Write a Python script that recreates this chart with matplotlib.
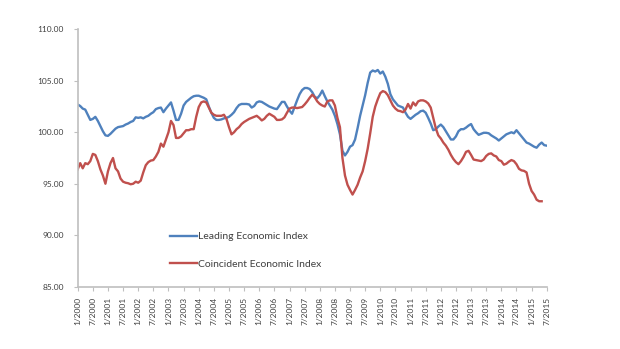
import matplotlib
matplotlib.use("Agg")
import matplotlib.pyplot as plt
import numpy as np

plt.rcParams['font.family'] = ['Lato', 'DejaVu Sans']

leading = [
    102.7, 102.55, 102.3, 102.2, 101.7, 101.2, 101.3, 101.5, 101.1, 100.6, 100.1, 99.7,
    99.65, 99.85, 100.1, 100.35, 100.5, 100.55, 100.6, 100.75, 100.85, 101.0, 101.1, 101.45,
    101.4, 101.45, 101.35, 101.5, 101.6, 101.8, 101.95, 102.25, 102.35, 102.4, 101.95, 102.3,
    102.6, 102.9, 102.1, 101.2, 101.2, 101.8, 102.6, 102.95, 103.15, 103.35, 103.5, 103.55,
    103.55, 103.45, 103.35, 103.2, 102.5, 101.9, 101.4, 101.2, 101.2, 101.25, 101.35, 101.4,
    101.5, 101.7, 101.95, 102.35, 102.65, 102.75, 102.75, 102.75, 102.7, 102.4, 102.55, 102.9,
    103.0, 102.95, 102.8, 102.65, 102.5, 102.4, 102.3, 102.25, 102.6, 102.95, 102.95, 102.5,
    102.1, 101.8, 102.45, 103.1, 103.7, 104.1, 104.3, 104.3, 104.2, 103.9, 103.45, 103.3,
    103.6, 104.05, 103.5, 103.0, 102.6, 102.2, 101.6, 100.8, 99.8, 98.2, 97.75, 98.1,
    98.6, 98.75, 99.3, 100.4, 101.6, 102.6, 103.6, 104.8, 105.8, 106.0, 105.9, 106.05,
    105.7, 105.9, 105.4, 104.7, 103.7, 103.2, 102.9, 102.6, 102.5, 102.4, 101.9, 101.5,
    101.3, 101.5, 101.7, 101.85, 102.05, 102.1, 101.9, 101.4, 100.85, 100.2, 100.3, 100.55,
    100.75, 100.5, 100.1, 99.7, 99.3, 99.3, 99.6, 100.1, 100.3, 100.3, 100.45, 100.65,
    100.8, 100.3, 100.0, 99.75, 99.85, 99.95, 99.95, 99.9, 99.7, 99.55, 99.4, 99.2,
    99.4, 99.6, 99.8, 99.9, 100.0, 99.9, 100.2, 99.9, 99.6, 99.3, 99.0, 98.9,
    98.75, 98.6, 98.5, 98.8, 99.0, 98.75, 98.7,
]

coincident = [
    96.4, 97.0, 96.5, 97.0, 96.9, 97.2, 97.9, 97.8, 97.2, 96.4, 95.8, 95.0,
    96.2, 97.0, 97.5, 96.5, 96.2, 95.5, 95.2, 95.1, 95.05, 94.95, 95.0, 95.2,
    95.1, 95.3, 96.1, 96.8, 97.1, 97.25, 97.3, 97.65, 98.1, 98.9, 98.6, 99.3,
    100.0, 101.1, 100.7, 99.45, 99.45, 99.6, 99.9, 100.2, 100.2, 100.3, 100.3, 101.5,
    102.45, 102.9, 103.0, 102.9, 102.4, 101.9, 101.7, 101.6, 101.6, 101.6, 101.7, 101.3,
    100.5, 99.8, 100.0, 100.3, 100.5, 100.8, 101.0, 101.15, 101.3, 101.4, 101.5, 101.6,
    101.4, 101.15, 101.3, 101.6, 101.8, 101.65, 101.5, 101.2, 101.2, 101.25, 101.45, 101.9,
    102.3, 102.4, 102.4, 102.35, 102.4, 102.45, 102.7, 103.0, 103.35, 103.65, 103.4, 103.0,
    102.75, 102.6, 102.5, 103.0, 103.1, 103.1, 102.6, 101.4, 100.5, 97.5, 95.8, 94.9,
    94.4, 93.95, 94.4, 94.9, 95.6, 96.2, 97.2, 98.4, 99.9, 101.5, 102.5, 103.2,
    103.8, 104.0, 103.9, 103.6, 103.1, 102.6, 102.3, 102.1, 102.05, 101.95, 102.2, 102.75,
    102.3, 102.9, 102.6, 103.0, 103.1, 103.1, 103.0, 102.8, 102.4, 101.4, 100.4, 99.7,
    99.4, 99.0, 98.7, 98.3, 97.8, 97.4, 97.1, 96.9, 97.2, 97.6, 98.1, 98.2,
    97.8, 97.35, 97.3, 97.25, 97.2, 97.35, 97.7, 97.9, 97.95, 97.75, 97.65, 97.3,
    97.2, 96.85, 96.95, 97.15, 97.3, 97.2, 96.9, 96.45, 96.3, 96.25, 96.1, 95.0,
    94.3, 93.95, 93.45, 93.3, 93.3,
]

tick_labels = []
for yr in range(2000, 2016):
    tick_labels.append(f"1/{yr}")
    tick_labels.append(f"7/{yr}")

y_ticks = [85, 90, 95, 100, 105, 110]

fig = plt.figure(figsize=(6.2, 3.49), dpi=100)
ax = fig.add_axes([0.1253, 0.1785, 0.7565, 0.7375])

ax.plot(np.arange(len(leading)), leading, color='#4f81bd', lw=1.7,
        label='Leading Economic Index', solid_joinstyle='round')
ax.plot(np.arange(len(coincident)), coincident, color='#c0504d', lw=1.7,
        label='Coincident Economic Index', solid_joinstyle='round')

ax.set_xlim(0, 186)
ax.set_ylim(85, 110)
ax.set_xticks(np.arange(0, 6 * len(tick_labels), 6))
ax.set_xticklabels(tick_labels, rotation=90, fontsize=6, color='#404040')
ax.set_yticks(y_ticks)
ax.set_yticklabels([f"{v:.2f}" for v in y_ticks], fontsize=6, color='#404040')

for s in ['top', 'right']:
    ax.spines[s].set_visible(False)
for s in ['left', 'bottom']:
    ax.spines[s].set_color('#bfbfbf')
    ax.spines[s].set_linewidth(1.2)
ax.tick_params(axis='both', direction='out', length=3, width=0.8, color='#bfbfbf')
ax.tick_params(axis='y', pad=7)
ax.tick_params(axis='x', pad=4)

leg = ax.legend(loc='upper left', bbox_to_anchor=(170 / 620, 1 - 232 / 349),
                bbox_transform=fig.transFigure, frameon=False, fontsize=7.5,
                handlelength=2.6, handletextpad=0.05, labelspacing=1.75,
                borderpad=0, borderaxespad=0)
for t in leg.get_texts():
    t.set_color('#404040')

fig.savefig('out.png', dpi=100)
